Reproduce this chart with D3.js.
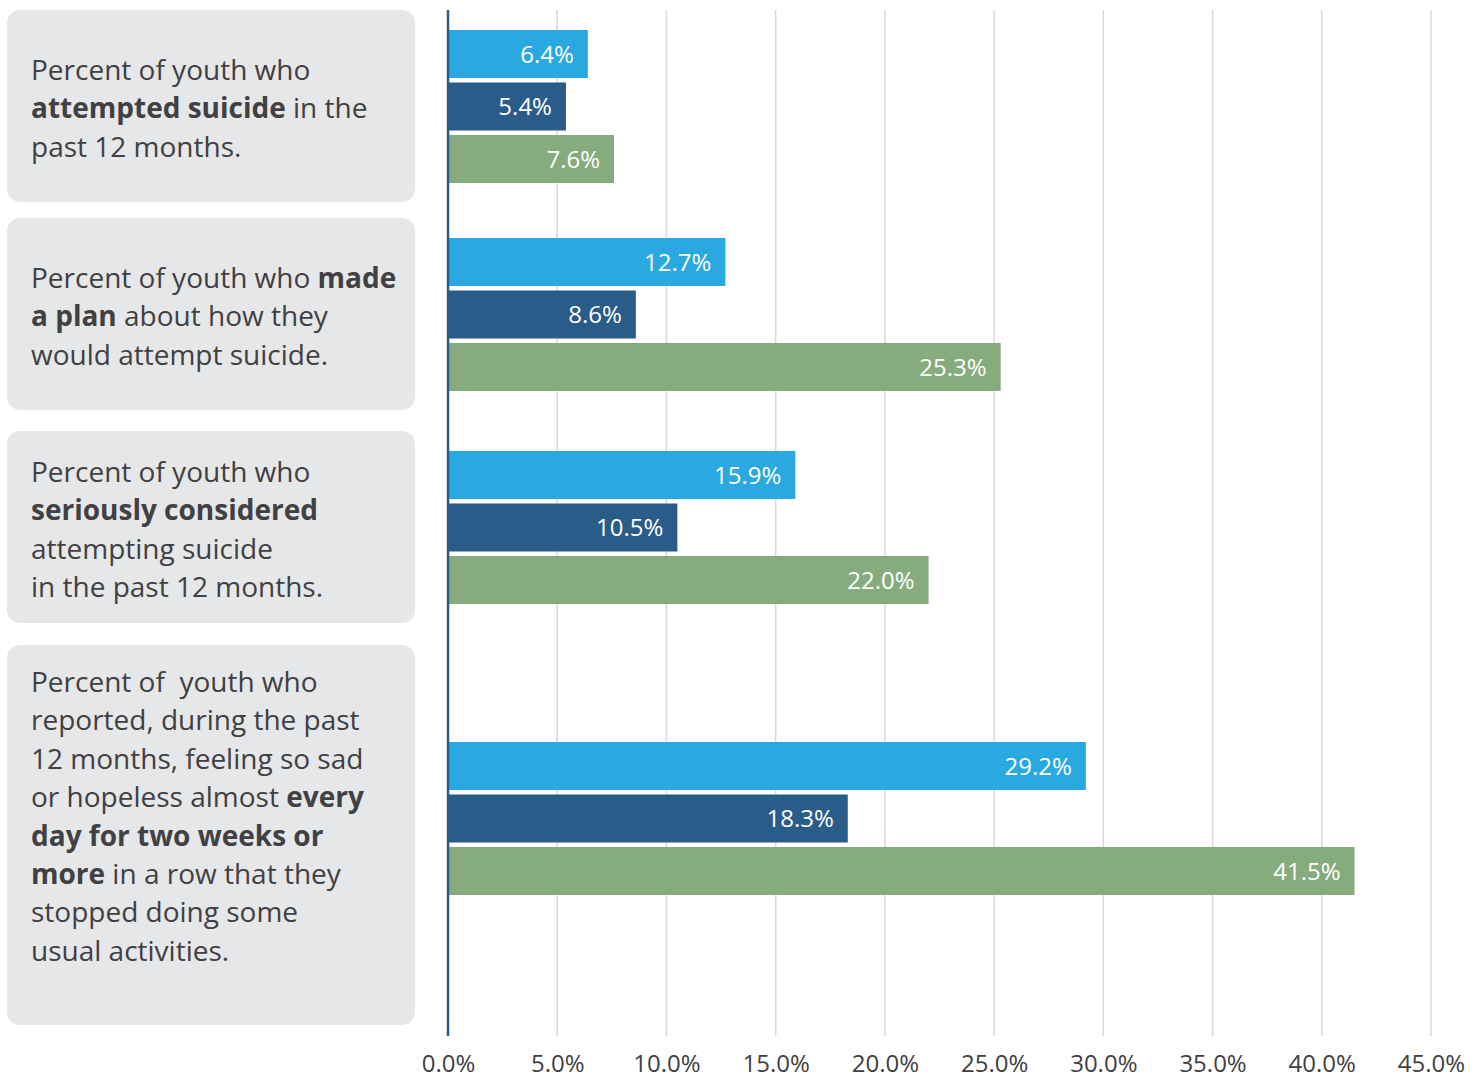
<!DOCTYPE html>
<html>
<head>
<meta charset="utf-8">
<script src="https://cdn.jsdelivr.net/npm/d3@7"></script>
<style>
  html, body { margin: 0; padding: 0; background: #ffffff; }
  svg { display: block; }
  text { font-family: "Open Sans", "Noto Sans", sans-serif; }
</style>
</head>
<body>
<svg id="chart" width="1482" height="1078"></svg>
<script>
// ---------------- DATA ----------------
const categories = [
  "Percent of youth who\n**attempted suicide** in the\npast 12 months.",
  "Percent of youth who **made\na plan** about how they\nwould attempt suicide.",
  "Percent of youth who\n**seriously considered**\nattempting suicide\nin the past 12 months.",
  "Percent of  youth who\nreported, during the past\n12 months, feeling so sad\nor hopeless almost **every\nday for two weeks or\nmore** in a row that they\nstopped doing some\nusual activities."
];
const seriesNames = ["Series 1", "Series 2", "Series 3"];
const series1Values = [6.4, 12.7, 15.9, 29.2];
const series2Values = [5.4, 8.6, 10.5, 18.3];
const series3Values = [7.6, 25.3, 22.0, 41.5];
const tickValues = [0, 5, 10, 15, 20, 25, 30, 35, 40, 45];
const tickLabels = ["0.0%", "5.0%", "10.0%", "15.0%", "20.0%", "25.0%", "30.0%", "35.0%", "40.0%", "45.0%"];

// ---------------- LAYOUT ----------------
const colors = ["#29a9e0", "#2a5c8a", "#86ac7e"];
const panelTop = [10, 218, 431, 645];
const panelHeight = [192, 192, 192, 380];
const groupCenterOffset = [96.5, 96.5, 96.5, 173.5];
const textBaselineOffset = [70, 70, 51, 47];
const lineHeight = 38.4;
const panelX = 7, panelW = 408, panelR = 13;
const textX = 31;
const textFontSize = 28;
const plotLeft = 448, plotRight = 1431, plotTop = 10, plotBottom = 1036;
const groupSpan = 153;

const svg = d3.select("#chart");

const x = d3.scaleLinear().domain([0, 45]).range([plotLeft, plotRight]);
const inner = d3.scaleBand().domain(seriesNames).range([-groupSpan / 2, groupSpan / 2])
  .paddingInner(0.0857).paddingOuter(0);

const seriesValues = [series1Values, series2Values, series3Values];
const rows = categories.map((c, i) => ({
  label: c, i,
  values: seriesNames.map((s, k) => ({ series: s, k, value: seriesValues[k][i] }))
}));

// ---------------- Panels ----------------
const panels = svg.append("g").attr("class", "panels");
const pg = panels.selectAll("g").data(rows).join("g");
pg.append("rect")
  .attr("x", panelX).attr("y", d => panelTop[d.i])
  .attr("width", panelW).attr("height", d => panelHeight[d.i])
  .attr("rx", panelR).attr("ry", panelR)
  .attr("fill", "#e6e7e8");

pg.each(function(d) {
  const g = d3.select(this);
  const lines = d.label.split("\n");
  let bold = false;
  lines.forEach((line, li) => {
    const t = g.append("text")
      .attr("x", textX)
      .attr("y", panelTop[d.i] + textBaselineOffset[d.i] + li * lineHeight)
      .attr("font-size", textFontSize)
      .attr("fill", "#414042")
      .style("white-space", "pre");
    const parts = line.split("**");
    parts.forEach((p, pi) => {
      if (pi > 0) bold = !bold;
      if (p.length === 0) return;
      t.append("tspan").text(p).attr("font-weight", bold ? 700 : 400);
    });
  });
});

// ---------------- Grid ----------------
svg.append("g").attr("class", "grid")
  .selectAll("line").data(tickValues.filter(v => v > 0)).join("line")
  .attr("x1", d => x(d)).attr("x2", d => x(d))
  .attr("y1", plotTop).attr("y2", plotBottom)
  .attr("stroke", "#d9d9d9").attr("stroke-width", 1.5);

// ---------------- Axis ----------------
const axis = d3.axisBottom(x).tickValues(tickValues)
  .tickFormat((d, i) => tickLabels[i]).tickSize(0).tickPadding(0);
const ax = svg.append("g").attr("transform", `translate(0, ${plotBottom})`).call(axis);
ax.select(".domain").remove();
ax.selectAll("text")
  .attr("y", 36).attr("dy", 0)
  .attr("font-size", 24)
  .attr("font-family", "Open Sans, Noto Sans, sans-serif")
  .attr("fill", "#414042");

// ---------------- Bars ----------------
const groups = svg.append("g").attr("class", "bars")
  .selectAll("g").data(rows).join("g")
  .attr("transform", d => `translate(0, ${panelTop[d.i] + groupCenterOffset[d.i]})`);

groups.selectAll("rect").data(d => d.values).join("rect")
  .attr("x", x(0) + 1)
  .attr("y", d => inner(d.series))
  .attr("width", d => x(d.value) - x(0) - 1)
  .attr("height", inner.bandwidth())
  .attr("fill", d => colors[d.k]);

groups.selectAll("text.val").data(d => d.values).join("text")
  .attr("class", "val")
  .attr("x", d => x(d.value) - 14)
  .attr("y", d => inner(d.series) + inner.bandwidth() / 2)
  .attr("dy", "0.36em")
  .attr("text-anchor", "end")
  .attr("font-size", 24)
  .attr("fill", "#ffffff")
  .text(d => d.value.toFixed(1) + "%");

// y axis line
svg.append("line")
  .attr("x1", plotLeft).attr("x2", plotLeft)
  .attr("y1", plotTop).attr("y2", plotBottom)
  .attr("stroke", "#2a5c8a").attr("stroke-width", 2.5);
</script>
</body>
</html>
